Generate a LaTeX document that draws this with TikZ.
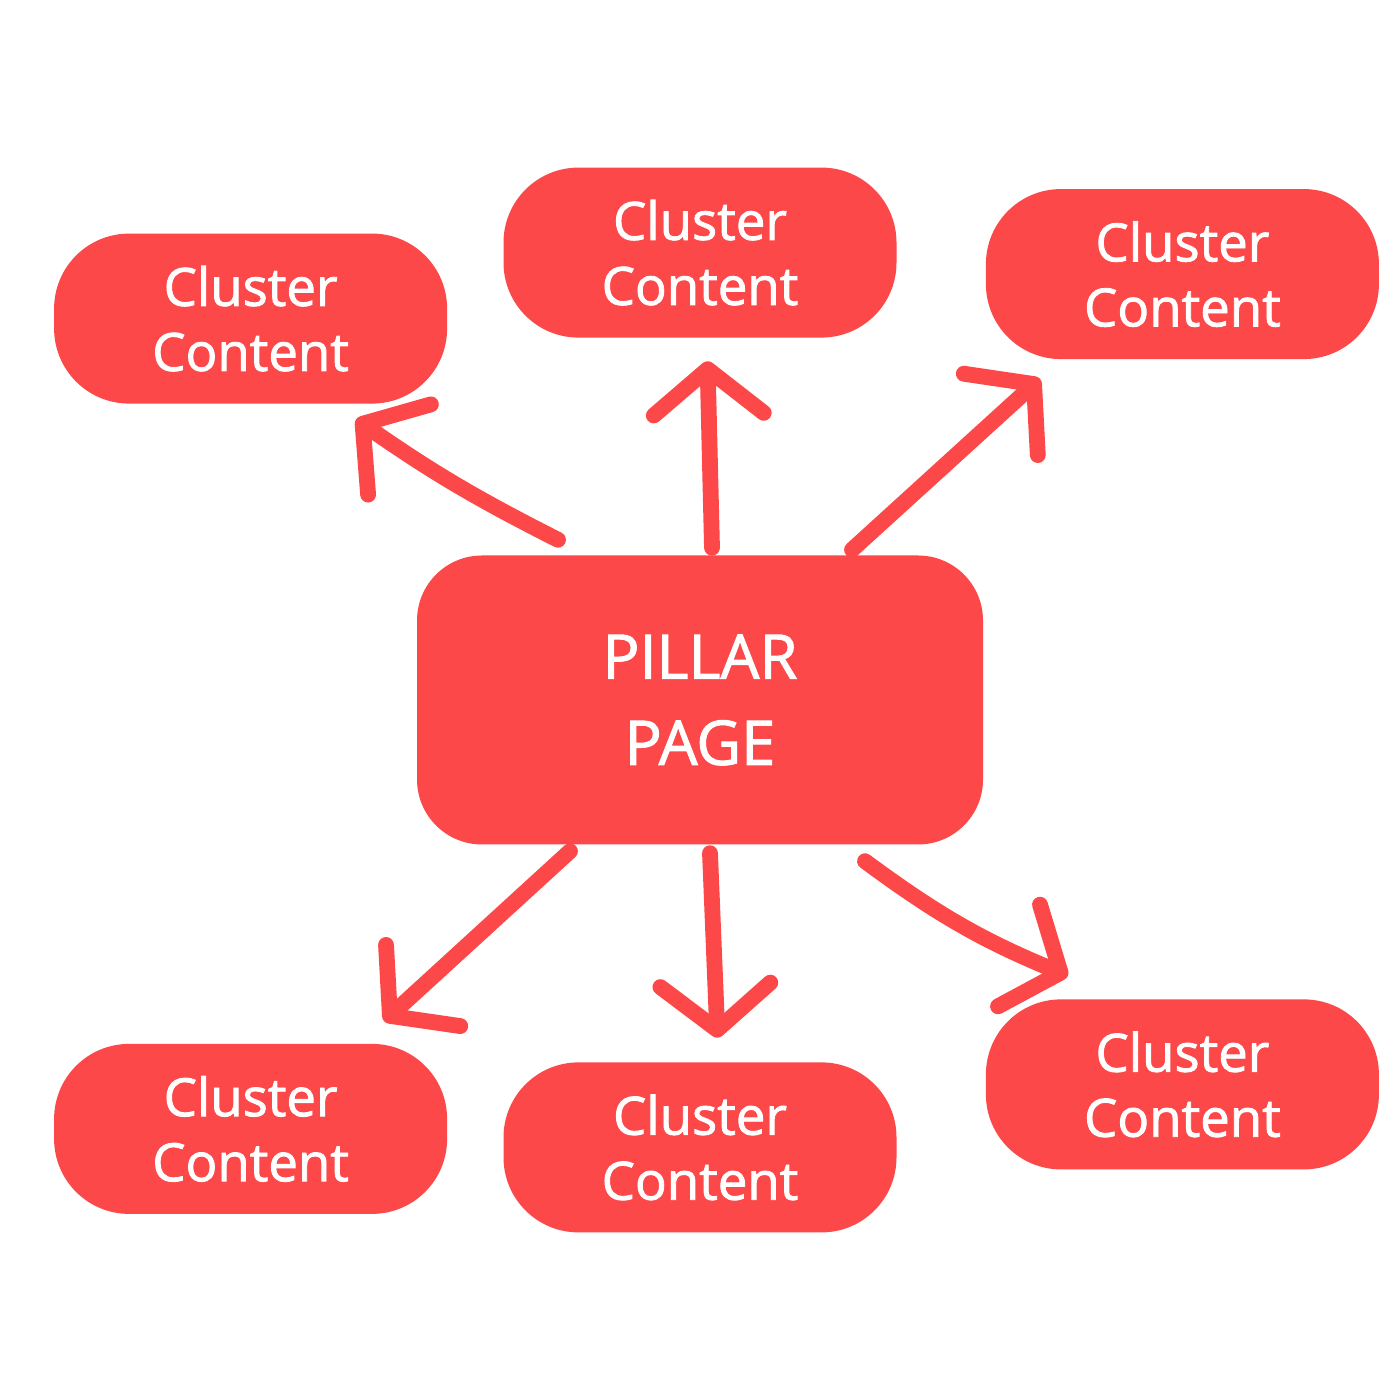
\documentclass[tikz,border=0pt]{standalone}
\usepackage{fontspec}
\setmainfont{Open Sans}
\newfontfamily\boxfont{Open Sans}[FakeBold=1.6]
\usetikzlibrary{arrows.meta, positioning}
\definecolor{pillarred}{RGB}{252,72,72}

\begin{document}
\begin{tikzpicture}[
        node distance=1.2cm,
        cluster/.style={rectangle, fill=pillarred, text=white, rounded corners=0.75cm, minimum width=3.93cm, minimum height=1.70cm, inner sep=0pt, align=center, font=\boxfont\fontsize{15}{18.5}\selectfont},
        pillarbox/.style={rectangle, fill=pillarred, text=white, rounded corners=0.65cm, minimum width=5.66cm, minimum height=2.89cm, inner sep=0pt, align=center, font=\boxfont\fontsize{17.5}{24.5}\selectfont},
        arrow/.style={-{Straight Barb[length=4.5mm, width=11mm, round]}, line width=4.5pt, line cap=round, pillarred}
    ]
        \useasboundingbox (0,0) rectangle (14,14);
        \node[pillarbox] (pillar) at (7,7) {PILLAR\\PAGE};
        \node[cluster, above=2.165cm of pillar] (top) {Cluster\\Content};
        \node[cluster, left=0.55cm of top, yshift=-0.66cm] (topleft) {Cluster\\Content};
        \node[cluster, right=0.88cm of top, yshift=-0.215cm] (topright) {Cluster\\Content};
        \node[cluster, below=2.165cm of pillar] (bottom) {Cluster\\Content};
        \node[cluster, left=0.55cm of bottom, yshift=0.185cm] (bottomleft) {Cluster\\Content};
        \node[cluster, right=0.88cm of bottom, yshift=0.63cm] (bottomright) {Cluster\\Content};

        \draw[arrow] ([xshift=-1.42cm, yshift=0.15cm]pillar.north) to[bend left=4] ([xshift=1.055cm, yshift=-0.15cm]topleft.south);
        \draw[arrow] ([xshift=0.12cm, yshift=0.07cm]pillar.north) -- ([xshift=0.075cm, yshift=-0.23cm]top.south);
        \draw[arrow] ([xshift=1.52cm, yshift=0.05cm]pillar.north) -- ([xshift=-1.425cm, yshift=-0.19cm]topright.south);
        \draw[arrow] ([xshift=-1.30cm, yshift=-0.06cm]pillar.south) -- ([xshift=1.335cm, yshift=0.22cm]bottomleft.north);
        \draw[arrow] ([xshift=0.10cm, yshift=-0.08cm]pillar.south) -- ([xshift=0.175cm, yshift=0.24cm]bottom.north);
        \draw[arrow] ([xshift=1.65cm, yshift=-0.16cm]pillar.south) to[bend right=7] ([xshift=-1.145cm, yshift=0.23cm]bottomright.north);
    \end{tikzpicture}
\end{document}
